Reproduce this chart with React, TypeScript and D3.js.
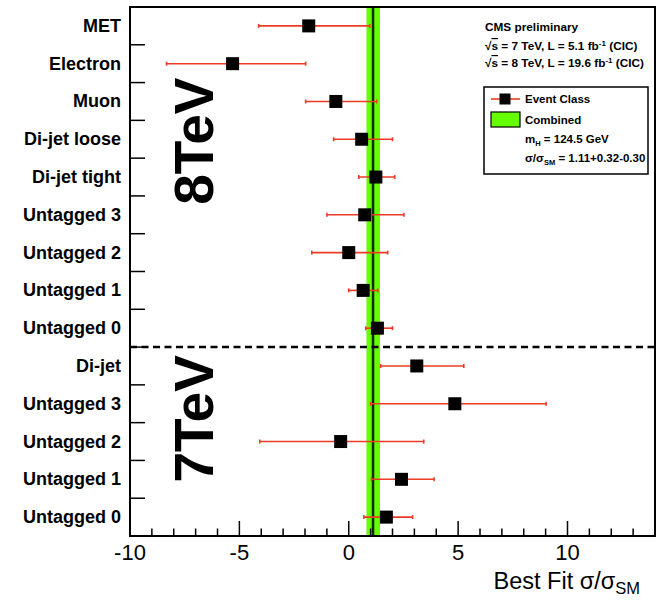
import React from "react";
import * as d3 from "d3";

const categories = ["MET", "Electron", "Muon", "Di-jet loose", "Di-jet tight", "Untagged 3", "Untagged 2", "Untagged 1", "Untagged 0", "Di-jet", "Untagged 3", "Untagged 2", "Untagged 1", "Untagged 0"];
const bestFit = [-1.83, -5.31, -0.59, 0.59, 1.24, 0.73, 0.0, 0.66, 1.31, 3.11, 4.85, -0.37, 2.41, 1.72];
const errLow = [-4.12, -8.33, -1.97, -0.69, 0.46, -1.0, -1.69, 0.0, 0.78, 1.46, 1.0, -4.07, 1.04, 0.69];
const errHigh = [0.96, -1.97, 1.28, 2.0, 2.1, 2.52, 1.78, 1.33, 2.0, 5.26, 9.02, 3.43, 3.9, 2.92];
const energyLabels = ["8TeV", "7TeV"];
const energyLabelRow = [3.55, 10.9];
const splitIdx = 9;
const combined = 1.11;
const combinedLow = 0.81;
const combinedHigh = 1.43;
const xMajorTicks = [-10, -5, 0, 5, 10];
const xDomain = [-10, 14];

const W = 657, H = 600;
const left = 130, right = 655, top = 7, bottom = 536;
const FONT = "'Liberation Sans', Arial, Helvetica, sans-serif";
const RED = "#ee3b24";
const GREEN = "#66ff00";

export default function App() {
  const x = d3.scaleLinear().domain(xDomain).range([left, right]);
  const ids = categories.map((_, i) => String(i));
  const y = d3.scaleBand().domain(ids).range([top, bottom]).padding(0);
  const bw = y.bandwidth();
  const minorTicks = d3.range(xDomain[0], xDomain[1] + 0.001, 1).filter((t) => !xMajorTicks.includes(t));
  const boundaries = d3.range(1, categories.length);
  const ms = 13;

  return (
    <svg width={W} height={H} style={{ position: "absolute", left: 0, top: 0, background: "#fff" }} fontFamily={FONT}>
      <rect x={0} y={0} width={W} height={H} fill="#fff" />
      {/* combined band */}
      <rect x={x(combinedLow)} y={top} width={x(combinedHigh) - x(combinedLow)} height={bottom - top} fill={GREEN} />
      <line x1={x(combined)} x2={x(combined)} y1={top} y2={bottom} stroke="#0a2a00" strokeWidth={2.5} />

      {/* dashed separator */}
      <line x1={left} x2={right} y1={y(String(splitIdx))!} y2={y(String(splitIdx))!} stroke="#000" strokeWidth={2.5} strokeDasharray="7,4.5" />

      {/* y ticks */}
      {boundaries.map((b) => (
        <line key={"yt" + b} x1={left} x2={left + 15} y1={y(String(b))!} y2={y(String(b))!} stroke="#000" strokeWidth={1.5} />
      ))}
      {/* x ticks */}
      {xMajorTicks.map((t) => (
        <line key={"xM" + t} x1={x(t)} x2={x(t)} y1={bottom} y2={bottom - 15} stroke="#000" strokeWidth={1.5} />
      ))}
      {minorTicks.map((t) => (
        <line key={"xm" + t} x1={x(t)} x2={x(t)} y1={bottom} y2={bottom - 7.5} stroke="#000" strokeWidth={1.5} />
      ))}

      {/* error bars & markers */}
      {categories.map((c, i) => {
        const cy = y(String(i))! + bw / 2;
        return (
          <g key={"pt" + i}>
            <line x1={x(errLow[i])} x2={x(errHigh[i])} y1={cy} y2={cy} stroke={RED} strokeWidth={1.6} />
            <line x1={x(errLow[i])} x2={x(errLow[i])} y1={cy - 2} y2={cy + 2} stroke={RED} strokeWidth={1.6} />
            <line x1={x(errHigh[i])} x2={x(errHigh[i])} y1={cy - 2} y2={cy + 2} stroke={RED} strokeWidth={1.6} />
            <rect x={x(bestFit[i]) - ms / 2} y={cy - ms / 2} width={ms} height={ms} fill="#000" />
          </g>
        );
      })}

      {/* frame */}
      <rect x={left} y={top} width={right - left} height={bottom - top} fill="none" stroke="#000" strokeWidth={2} />

      {/* category labels */}
      {categories.map((c, i) => (
        <text key={"cl" + i} x={121} y={y(String(i))! + bw / 2 + 6} textAnchor="end" fontWeight="bold" fontSize={18} fill="#000">
          {c}
        </text>
      ))}

      {/* energy labels */}
      {energyLabels.map((e, k) => (
        <text key={"en" + k} transform={`translate(213,${top + energyLabelRow[k] * bw}) rotate(-90)`} textAnchor="middle" fontWeight="bold" fontSize={55} fill="#000">
          {e}
        </text>
      ))}

      {/* x tick labels */}
      {xMajorTicks.map((t) => (
        <text key={"xl" + t} x={x(t)} y={560} textAnchor="middle" fontSize={22} fill="#000">
          {t}
        </text>
      ))}
      <text x={640} y={589} textAnchor="end" fontSize={23.5} fill="#000">
        Best Fit σ/σ<tspan fontSize={16.5} dy={5}>SM</tspan>
      </text>

      {/* CMS text */}
      <g fontWeight="bold" fontSize={11.8} fill="#000">
        <text x={485} y={31}>CMS preliminary</text>
        <text x={485} y={50}>
          √<tspan style={{ textDecoration: "overline" }}>s</tspan> = 7 TeV, L = 5.1 fb<tspan fontSize={8} dy={-4}>-1</tspan><tspan dy={4}> (CIC)</tspan>
        </text>
        <text x={485} y={67}>
          √<tspan style={{ textDecoration: "overline" }}>s</tspan> = 8 TeV, L = 19.6 fb<tspan fontSize={8} dy={-4}>-1</tspan><tspan dy={4}> (CIC)</tspan>
        </text>
      </g>

      {/* legend */}
      <rect x={484} y={87} width={164} height={87} fill="#fff" stroke="#000" strokeWidth={1.5} />
      <line x1={491} x2={520} y1={99} y2={99} stroke={RED} strokeWidth={1.6} />
      <rect x={505 - 5.5} y={99 - 5.5} width={11} height={11} fill="#000" />
      <rect x={491} y={112} width={29} height={15} fill={GREEN} stroke="#000" strokeWidth={1.2} />
      <g fontWeight="bold" fontSize={11.5} fill="#000">
        <text x={525} y={103}>Event Class</text>
        <text x={525} y={124}>Combined</text>
        <text x={525} y={143}>m<tspan fontSize={7.5} dy={3}>H</tspan><tspan dy={-3}> = 124.5 GeV</tspan></text>
        <text x={525} y={162}>σ/σ<tspan fontSize={7.5} dy={3}>SM</tspan><tspan dy={-3}> = 1.11+0.32-0.30</tspan></text>
      </g>
    </svg>
  );
}
